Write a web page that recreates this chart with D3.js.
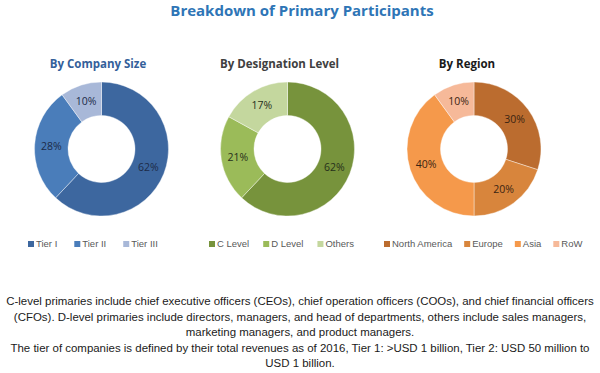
<!DOCTYPE html>
<html>
<head>
<meta charset="utf-8">
<script src="https://cdnjs.cloudflare.com/ajax/libs/d3/7.8.5/d3.min.js"></script>
<style>
  body { margin: 0; background: #fff; }
  svg { display: block; font-family: "Open Sans", "Liberation Sans", sans-serif; }
</style>
</head>
<body>
<div id="chart"></div>
<script>
// data
var title = "Breakdown of Primary Participants";

var companyLabels = ["Tier I", "Tier II", "Tier III"];
var companyValues = [62, 28, 10];

var designationLabels = ["C Level", "D Level", "Others"];
var designationValues = [62, 21, 17];

var regionLabels = ["North America", "Europe", "Asia", "RoW"];
var regionValues = [30, 20, 40, 10];

var notes = [
  "C-level primaries include chief executive officers (CEOs), chief operation officers (COOs), and chief financial officers",
  "(CFOs). D-level primaries include directors, managers, and head of departments, others include sales managers,",
  "marketing managers, and product managers.",
  "The tier of companies is defined by their total revenues as of 2016, Tier 1: >USD 1 billion, Tier 2: USD 50 million to",
  "USD 1 billion."
];

var width = 600, height = 373;

var svg = d3.select("#chart").append("svg")
  .attr("width", width)
  .attr("height", height);

svg.append("text")
  .attr("x", 302)
  .attr("y", 16)
  .attr("text-anchor", "middle")
  .attr("font-size", "15px")
  .attr("font-weight", "bold")
  .attr("fill", "#2E75B6")
  .text(title);

var charts = [
  { name: "By Company Size", labels: companyLabels, values: companyValues,
    cx: 101.5, titleX: 98, titleColor: "#34609A", legendX: 28, legendGap: 17, labelColor: "#1C2B48",
    colors: ["#3D679F", "#4A7DBA", "#A8B8D8"] },
  { name: "By Designation Level", labels: designationLabels, values: designationValues,
    cx: 287.5, titleX: 279.5, titleColor: "#404040", legendX: 209, legendGap: 14, labelColor: "#26301A",
    colors: ["#77933C", "#9BBB59", "#C4D79E"] },
  { name: "By Region", labels: regionLabels, values: regionValues,
    cx: 474, titleX: 467, titleColor: "#1A1A1A", legendX: 384, legendGap: 12, labelColor: "#3A2412",
    colors: ["#BB6C2F", "#D8853C", "#F5994B", "#F6B999"] }
];

var cy = 149, outerR = 67, innerR = 33.5;

var pie = d3.pie().sort(null).value(function(d) { return d; });
var arc = d3.arc().innerRadius(innerR).outerRadius(outerR);

charts.forEach(function(c) {
  var color = d3.scaleOrdinal().domain(c.labels).range(c.colors);

  svg.append("text")
    .attr("x", c.titleX)
    .attr("y", 68)
    .attr("text-anchor", "middle")
    .attr("font-size", "11.5px")
    .attr("font-weight", "bold")
    .attr("fill", c.titleColor)
    .text(c.name);

  var g = svg.append("g")
    .attr("transform", "translate(" + c.cx + "," + cy + ")");

  var arcs = pie(c.values);

  g.selectAll("path")
    .data(arcs)
    .enter()
    .append("path")
    .attr("d", arc)
    .attr("fill", function(d, i) { return color(c.labels[i]); })
    .attr("stroke", "#ffffff")
    .attr("stroke-width", 0.4);

  g.selectAll("text")
    .data(arcs)
    .enter()
    .append("text")
    .attr("transform", function(d) { return "translate(" + arc.centroid(d) + ")"; })
    .attr("text-anchor", "middle")
    .attr("dy", "0.35em")
    .attr("font-size", "10.5px")
    .attr("fill", c.labelColor)
    .text(function(d) { return d.value + "%"; });

  // legend, laid out by measured text widths
  var lg = svg.append("g").attr("transform", "translate(0,244)");
  var x = c.legendX;
  c.labels.forEach(function(lab, i) {
    lg.append("rect")
      .attr("x", x)
      .attr("y", -3)
      .attr("width", 6)
      .attr("height", 6)
      .attr("fill", color(lab));
    var t = lg.append("text")
      .attr("x", x + 8)
      .attr("dy", "0.35em")
      .attr("font-family", "'Liberation Sans', sans-serif")
      .attr("font-size", "9.5px")
      .attr("fill", "#595959")
      .text(lab);
    x += 8 + t.node().getComputedTextLength() + c.legendGap;
  });
});

// footnote
var noteG = svg.append("g");
var lines = noteG.selectAll("text")
  .data(notes)
  .enter()
  .append("text")
  .attr("x", 300)
  .attr("y", function(d, i) { return 305 + i * 15.5; })
  .attr("text-anchor", "middle")
  .attr("font-family", "'Liberation Sans', sans-serif")
  .attr("font-size", "12px")
  .attr("fill", "#1A1A1A")
  .text(function(d) { return d; });

// shrink the font so the longest line fits the page like the original
var w0 = d3.max(lines.nodes(), function(n) { return n.getComputedTextLength(); });
var fs = Math.min(12, 12 * 588 / w0);
lines.attr("font-size", fs + "px");
</script>
</body>
</html>
